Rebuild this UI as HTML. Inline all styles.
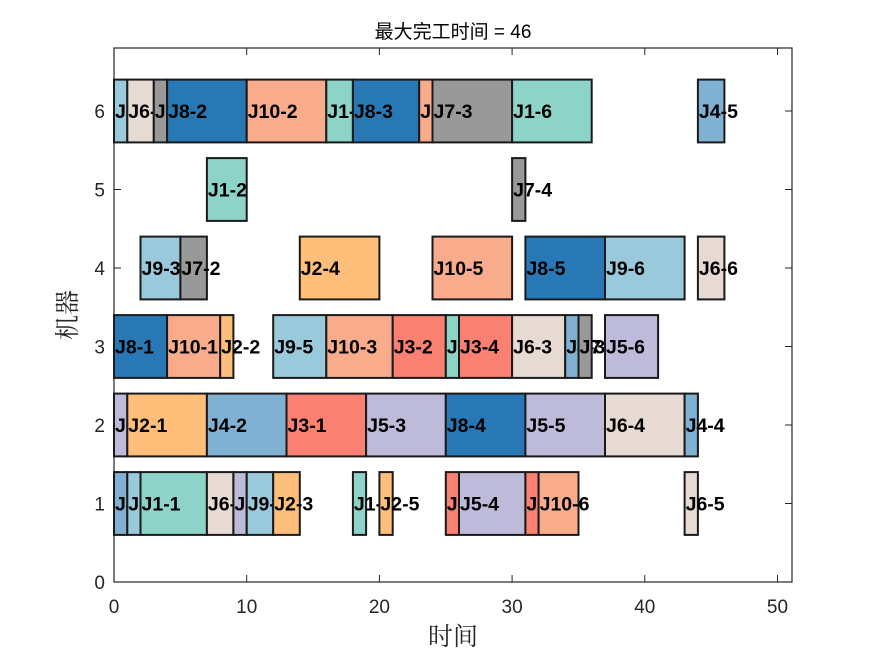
<!DOCTYPE html>
<html><head><meta charset="utf-8"><style>
html,body{margin:0;padding:0;background:#fff;}
svg{display:block;}
.b{stroke:#1a1a1a;stroke-width:2;}
.l{font-family:"Liberation Sans",Arial,sans-serif;font-weight:bold;font-size:19.5px;fill:#000;}
.t{font-family:"Liberation Sans",Arial,sans-serif;font-size:19px;fill:#262626;}
.c1{fill:#8ED3C7}.c2{fill:#FFBF7A}.c3{fill:#FA8072}.c4{fill:#80B1D3}.c5{fill:#BEBADA}
.c6{fill:#E6DAD3}.c7{fill:#999999}.c8{fill:#2878B5}.c9{fill:#9AC9DB}.c10{fill:#F8AC8C}
</style></head><body>
<svg width="875" height="656" viewBox="0 0 875 656" xmlns="http://www.w3.org/2000/svg">
<rect width="875" height="656" fill="#fff"/>
<rect x="114" y="48" width="678" height="534" fill="none" stroke="#262626" stroke-width="1.2"/>
<g stroke="#262626" stroke-width="1">
<line x1="246.7" y1="582" x2="246.7" y2="575"/><line x1="379.4" y1="582" x2="379.4" y2="575"/><line x1="512.1" y1="582" x2="512.1" y2="575"/><line x1="644.8" y1="582" x2="644.8" y2="575"/><line x1="777.5" y1="582" x2="777.5" y2="575"/>
<line x1="246.7" y1="48" x2="246.7" y2="55"/><line x1="379.4" y1="48" x2="379.4" y2="55"/><line x1="512.1" y1="48" x2="512.1" y2="55"/><line x1="644.8" y1="48" x2="644.8" y2="55"/><line x1="777.5" y1="48" x2="777.5" y2="55"/>
<line x1="114" y1="503.5" x2="121" y2="503.5"/><line x1="114" y1="425" x2="121" y2="425"/><line x1="114" y1="346.5" x2="121" y2="346.5"/><line x1="114" y1="268" x2="121" y2="268"/><line x1="114" y1="189.5" x2="121" y2="189.5"/><line x1="114" y1="111" x2="121" y2="111"/>
<line x1="792" y1="503.5" x2="785" y2="503.5"/><line x1="792" y1="425" x2="785" y2="425"/><line x1="792" y1="346.5" x2="785" y2="346.5"/><line x1="792" y1="268" x2="785" y2="268"/><line x1="792" y1="189.5" x2="785" y2="189.5"/><line x1="792" y1="111" x2="785" y2="111"/>
</g>
<g class="t" text-anchor="middle">
<text x="114" y="613">0</text><text x="246.7" y="613">10</text><text x="379.4" y="613">20</text><text x="512.1" y="613">30</text><text x="644.8" y="613">40</text><text x="777.5" y="613">50</text>
</g>
<g class="t" text-anchor="end">
<text x="105" y="589">0</text><text x="105" y="510.5">1</text><text x="105" y="432">2</text><text x="105" y="353.5">3</text><text x="105" y="275">4</text><text x="105" y="196.5">5</text><text x="105" y="118">6</text>
</g>
<text x="453" y="38" text-anchor="middle" style="font-family:'Liberation Sans','Noto Sans CJK SC',sans-serif;font-size:19px;fill:#000">最大完工时间 = 46</text>
<text x="453" y="645" text-anchor="middle" style="font-family:'Liberation Serif','Noto Serif CJK SC',serif;font-size:25px;fill:#262626">时间</text>
<text transform="translate(76,315) rotate(-90)" text-anchor="middle" style="font-family:'Liberation Serif','Noto Serif CJK SC',serif;font-size:25px;fill:#262626">机器</text>

<rect class="b c9" x="114" y="79.6" width="13.3" height="62.8"/><text class="l" x="115" y="118">J9-1</text>
<rect class="b c6" x="127.3" y="79.6" width="26.5" height="62.8"/><text class="l" x="128.3" y="118">J6-2</text>
<rect class="b c7" x="153.8" y="79.6" width="13.3" height="62.8"/><text class="l" x="154.8" y="118">J7-1</text>
<rect class="b c8" x="167.1" y="79.6" width="79.6" height="62.8"/><text class="l" x="168.1" y="118">J8-2</text>
<rect class="b c10" x="246.7" y="79.6" width="79.6" height="62.8"/><text class="l" x="247.7" y="118">J10-2</text>
<rect class="b c1" x="326.3" y="79.6" width="26.6" height="62.8"/><text class="l" x="327.3" y="118">J1-3</text>
<rect class="b c8" x="352.9" y="79.6" width="66.3" height="62.8"/><text class="l" x="353.9" y="118">J8-3</text>
<rect class="b c10" x="419.2" y="79.6" width="13.3" height="62.8"/><text class="l" x="420.2" y="118">J10-4</text>
<rect class="b c7" x="432.5" y="79.6" width="79.6" height="62.8"/><text class="l" x="433.5" y="118">J7-3</text>
<rect class="b c1" x="512.1" y="79.6" width="79.6" height="62.8"/><text class="l" x="513.1" y="118">J1-6</text>
<rect class="b c4" x="697.9" y="79.6" width="26.5" height="62.8"/><text class="l" x="698.9" y="118">J4-5</text>

<rect class="b c1" x="206.9" y="158.1" width="39.8" height="62.8"/><text class="l" x="207.9" y="196.5">J1-2</text>
<rect class="b c7" x="512.1" y="158.1" width="13.3" height="62.8"/><text class="l" x="513.1" y="196.5">J7-4</text>

<rect class="b c9" x="140.5" y="236.6" width="39.9" height="62.8"/><text class="l" x="141.5" y="275">J9-3</text>
<rect class="b c7" x="180.4" y="236.6" width="26.5" height="62.8"/><text class="l" x="181.4" y="275">J7-2</text>
<rect class="b c2" x="299.8" y="236.6" width="79.6" height="62.8"/><text class="l" x="300.8" y="275">J2-4</text>
<rect class="b c10" x="432.5" y="236.6" width="79.6" height="62.8"/><text class="l" x="433.5" y="275">J10-5</text>
<rect class="b c8" x="525.4" y="236.6" width="79.6" height="62.8"/><text class="l" x="526.4" y="275">J8-5</text>
<rect class="b c9" x="605" y="236.6" width="79.6" height="62.8"/><text class="l" x="606" y="275">J9-6</text>
<rect class="b c6" x="697.9" y="236.6" width="26.5" height="62.8"/><text class="l" x="698.9" y="275">J6-6</text>

<rect class="b c8" x="114" y="315.1" width="53.1" height="62.8"/><text class="l" x="115" y="353.5">J8-1</text>
<rect class="b c10" x="167.1" y="315.1" width="53.1" height="62.8"/><text class="l" x="168.1" y="353.5">J10-1</text>
<rect class="b c2" x="220.2" y="315.1" width="13.2" height="62.8"/><text class="l" x="221.2" y="353.5">J2-2</text>
<rect class="b c9" x="273.2" y="315.1" width="53.1" height="62.8"/><text class="l" x="274.2" y="353.5">J9-5</text>
<rect class="b c10" x="326.3" y="315.1" width="66.4" height="62.8"/><text class="l" x="327.3" y="353.5">J10-3</text>
<rect class="b c3" x="392.7" y="315.1" width="53.1" height="62.8"/><text class="l" x="393.7" y="353.5">J3-2</text>
<rect class="b c1" x="445.8" y="315.1" width="13.2" height="62.8"/><text class="l" x="446.8" y="353.5">J1-5</text>
<rect class="b c3" x="459" y="315.1" width="53.1" height="62.8"/><text class="l" x="460" y="353.5">J3-4</text>
<rect class="b c6" x="512.1" y="315.1" width="53.1" height="62.8"/><text class="l" x="513.1" y="353.5">J6-3</text>
<rect class="b c4" x="565.2" y="315.1" width="13.3" height="62.8"/><text class="l" x="566.2" y="353.5">J4-3</text>
<rect class="b c7" x="578.5" y="315.1" width="13.2" height="62.8"/><text class="l" x="579.5" y="353.5">J7-5</text>
<rect class="b c5" x="605" y="315.1" width="53.1" height="62.8"/><text class="l" x="606" y="353.5">J5-6</text>

<rect class="b c5" x="114" y="393.6" width="13.3" height="62.8"/><text class="l" x="115" y="432">J5-1</text>
<rect class="b c2" x="127.3" y="393.6" width="79.6" height="62.8"/><text class="l" x="128.3" y="432">J2-1</text>
<rect class="b c4" x="206.9" y="393.6" width="79.6" height="62.8"/><text class="l" x="207.9" y="432">J4-2</text>
<rect class="b c3" x="286.5" y="393.6" width="79.6" height="62.8"/><text class="l" x="287.5" y="432">J3-1</text>
<rect class="b c5" x="366.1" y="393.6" width="79.7" height="62.8"/><text class="l" x="367.1" y="432">J5-3</text>
<rect class="b c8" x="445.8" y="393.6" width="79.6" height="62.8"/><text class="l" x="446.8" y="432">J8-4</text>
<rect class="b c5" x="525.4" y="393.6" width="79.6" height="62.8"/><text class="l" x="526.4" y="432">J5-5</text>
<rect class="b c6" x="605" y="393.6" width="79.6" height="62.8"/><text class="l" x="606" y="432">J6-4</text>
<rect class="b c4" x="684.6" y="393.6" width="13.3" height="62.8"/><text class="l" x="685.6" y="432">J4-4</text>

<rect class="b c4" x="114" y="472.1" width="13.3" height="62.8"/><text class="l" x="115" y="510.5">J4-1</text>
<rect class="b c9" x="127.3" y="472.1" width="13.2" height="62.8"/><text class="l" x="128.3" y="510.5">J9-2</text>
<rect class="b c1" x="140.5" y="472.1" width="66.4" height="62.8"/><text class="l" x="141.5" y="510.5">J1-1</text>
<rect class="b c6" x="206.9" y="472.1" width="26.5" height="62.8"/><text class="l" x="207.9" y="510.5">J6-1</text>
<rect class="b c5" x="233.4" y="472.1" width="13.3" height="62.8"/><text class="l" x="234.4" y="510.5">J5-2</text>
<rect class="b c9" x="246.7" y="472.1" width="26.5" height="62.8"/><text class="l" x="247.7" y="510.5">J9-4</text>
<rect class="b c2" x="273.2" y="472.1" width="26.6" height="62.8"/><text class="l" x="274.2" y="510.5">J2-3</text>
<rect class="b c1" x="352.9" y="472.1" width="13.2" height="62.8"/><text class="l" x="353.9" y="510.5">J1-4</text>
<rect class="b c2" x="379.4" y="472.1" width="13.3" height="62.8"/><text class="l" x="380.4" y="510.5">J2-5</text>
<rect class="b c3" x="445.8" y="472.1" width="13.2" height="62.8"/><text class="l" x="446.8" y="510.5">J3-3</text>
<rect class="b c5" x="459" y="472.1" width="66.4" height="62.8"/><text class="l" x="460" y="510.5">J5-4</text>
<rect class="b c3" x="525.4" y="472.1" width="13.2" height="62.8"/><text class="l" x="526.4" y="510.5">J3-5</text>
<rect class="b c10" x="538.6" y="472.1" width="39.9" height="62.8"/><text class="l" x="539.6" y="510.5">J10-6</text>
<rect class="b c6" x="684.6" y="472.1" width="13.3" height="62.8"/><text class="l" x="685.6" y="510.5">J6-5</text>
</svg>
</body></html>
